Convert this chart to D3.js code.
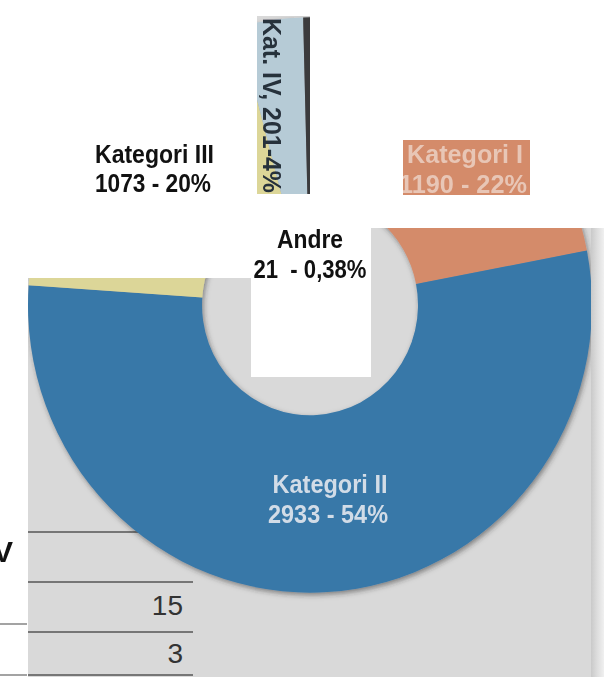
<!DOCTYPE html>
<html><head><meta charset="utf-8">
<script src="https://cdn.jsdelivr.net/npm/d3@7"></script>
<style>html,body{margin:0;padding:0;background:#fff;overflow:hidden}svg{display:block}text{font-family:"Liberation Sans",Arial,sans-serif}</style>
</head><body>
<svg id="c" width="604" height="677"></svg>
<script>
// ---- data ----
const categories = ["Kategori I", "Kategori II", "Kategori III", "Kat. IV", "Andre"];
const values = [1190, 2933, 1073, 201, 21];
const percents = ["22%", "54%", "20%", "4%", "0,38%"];
const tableValues = [15, 3];

// ---- setup ----
const W = 604, H = 677;
const svg = d3.select("#c");
const defs = svg.append("defs");

const cp = defs.append("clipPath").attr("id", "photo");
cp.append("path").attr("d", "M28,278H251V377H371V228H604V677H28Z");
cp.append("rect").attr("x", 257).attr("y", 16).attr("width", 53).attr("height", 178);
cp.append("rect").attr("x", 403).attr("y", 140).attr("width", 127).attr("height", 55);

const sh = defs.append("filter").attr("id", "shadow")
  .attr("x", "-10%").attr("y", "-10%").attr("width", "120%").attr("height", "120%");
sh.append("feDropShadow").attr("dx", 1.5).attr("dy", 2.5).attr("stdDeviation", 2.5)
  .attr("flood-color", "#2a2a2a").attr("flood-opacity", 0.5);

const soft = defs.append("filter").attr("id", "soft");
soft.append("feGaussianBlur").attr("stdDeviation", 0.6);

const edge = defs.append("linearGradient").attr("id", "edge");
edge.append("stop").attr("offset", "0%").attr("stop-color", "#c9c9c9");
edge.append("stop").attr("offset", "45%").attr("stop-color", "#dcdcdc");
edge.append("stop").attr("offset", "100%").attr("stop-color", "#f0f0f0");

const data = categories.map((c, i) => ({cat: c, value: values[i], pct: percents[i]}));
const color = d3.scaleOrdinal().domain(categories)
  .range(["#d48b6b", "#3978a8", "#dcd698", "#b6cbd6", "#3b3b3e"]);

// ---- photo layer ----
const photo = svg.append("g").attr("clip-path", "url(#photo)");
photo.append("rect").attr("width", W).attr("height", H).attr("fill", "#d9d9d9");

// table lines under the donut
const lineG = photo.append("g").attr("stroke", "#555").attr("stroke-width", 1.5);
[532, 582, 632, 675].forEach(y => lineG.append("line").attr("x1", 28).attr("x2", 193).attr("y1", y).attr("y2", y));
photo.append("g").selectAll("text").data(tableValues).join("text")
  .attr("x", 183).attr("y", (d, i) => 615 + i * 48)
  .attr("text-anchor", "end").attr("font-size", 28).attr("fill", "#333")
  .text(d => d);

const cx = 310, cy = 305, R = 282, r0 = 108;
const pie = d3.pie().sort(null).value(d => d.value).startAngle(0).endAngle(2 * Math.PI);
const arcs = pie(data);
const arc = d3.arc().innerRadius(r0).outerRadius(R);

const donut = photo.append("g").attr("filter", "url(#shadow)")
  .append("g").attr("transform", `translate(${cx},${cy}) scale(1,1.02)`);
donut.selectAll("path").data(arcs).join("path")
  .attr("d", arc).attr("fill", d => color(d.data.cat));

function label(g, x, y, txt, len, anchor) {
  return g.append("text").attr("x", x).attr("y", y).attr("text-anchor", anchor || "start")
    .attr("font-size", 25).attr("textLength", len).attr("lengthAdjust", "spacingAndGlyphs")
    .style("white-space", "pre").text(txt);
}

// labels printed on the photo
const lab = photo.append("g").attr("filter", "url(#soft)").attr("font-weight", "bold");
const k1 = arcs[0].data;
label(lab, 465, 163, k1.cat, 116, "middle").attr("fill", "#e8c6b6");
label(lab, 463, 193, `${k1.value} - ${k1.pct}`, 128, "middle").attr("fill", "#e8c6b6");
const k2 = arcs[1].data;
label(lab, 330, 493, k2.cat, 115, "middle").attr("fill", "#d2dce7");
label(lab, 328, 523, `${k2.value} - ${k2.pct}`, 120, "middle").attr("fill", "#d2dce7");
const k4 = arcs[3].data;
lab.append("text").attr("transform", "translate(263,18) rotate(90)")
  .attr("font-size", 25).attr("textLength", 175).attr("lengthAdjust", "spacingAndGlyphs")
  .attr("fill", "#27303b").text(`${k4.cat}, ${k4.value}-${k4.pct}`);

// bright right edge of the photo
photo.append("rect").attr("x", 591).attr("y", 0).attr("width", 13).attr("height", H).attr("fill", "url(#edge)");

// ---- white page overlay ----
const page = svg.append("g").attr("font-weight", "bold").attr("fill", "#111");
const k3 = arcs[2].data;
label(page, 95, 163, k3.cat, 119);
label(page, 95, 192, `${k3.value} - ${k3.pct}`, 116);
const k5 = arcs[4].data;
label(page, 310, 248, k5.cat, 66, "middle");
label(page, 310, 278, `${k5.value}  - ${k5.pct}`, 113, "middle");
page.append("text").attr("x", 13).attr("y", 562).attr("text-anchor", "end").attr("font-size", 30).text("V");

const wl = svg.append("g").attr("stroke", "#666").attr("stroke-width", 1.2);
[624, 675].forEach(y => wl.append("line").attr("x1", 0).attr("x2", 27).attr("y1", y).attr("y2", y));
</script>
</body></html>
